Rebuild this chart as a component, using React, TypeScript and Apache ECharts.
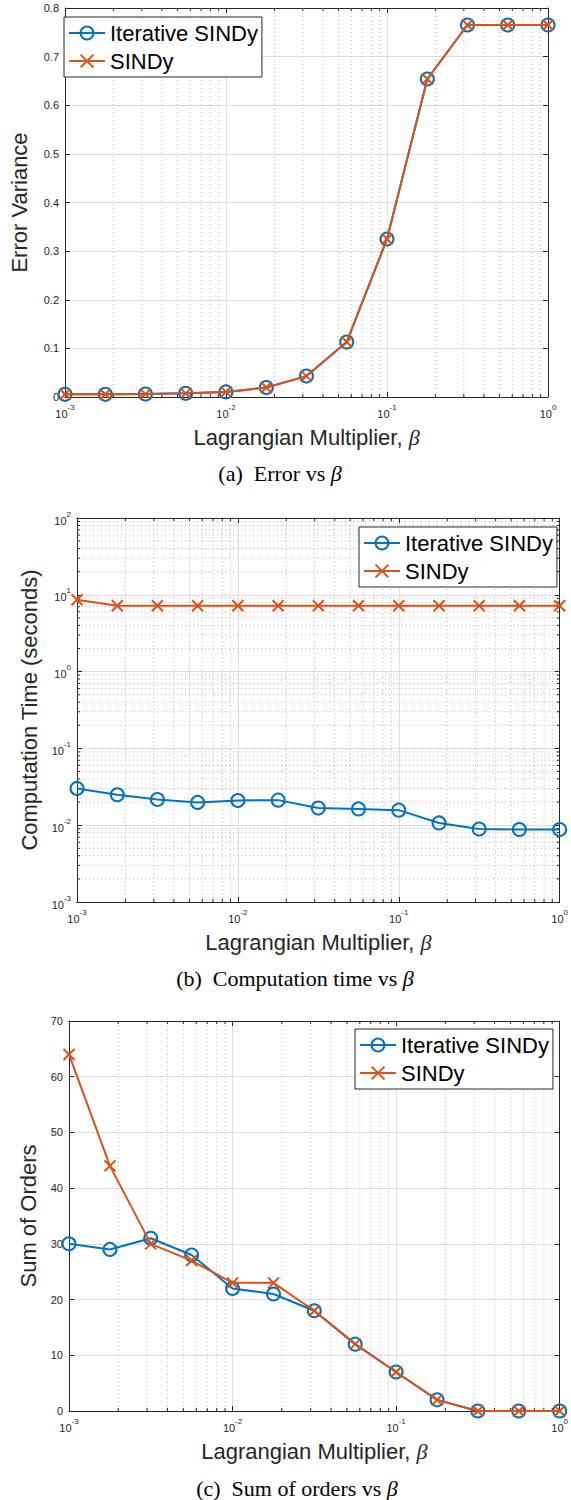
import React, { useEffect, useRef } from "react";
import * as echarts from "echarts";

// ---------------- data ----------------
const beta = [0.001, 0.00178, 0.00316, 0.00562, 0.01, 0.0178, 0.0316, 0.0562, 0.1, 0.178, 0.316, 0.562, 1];

const errorIterative = [0.0055, 0.0055, 0.006, 0.0075, 0.0105, 0.0195, 0.043, 0.113, 0.325, 0.654, 0.765, 0.765, 0.765];
const errorSindy = [0.0055, 0.0055, 0.006, 0.0075, 0.0105, 0.0195, 0.043, 0.113, 0.325, 0.654, 0.765, 0.765, 0.765];

const timeIterative = [0.0301, 0.0249, 0.0216, 0.0198, 0.021, 0.0212, 0.0167, 0.0163, 0.0157, 0.0107, 0.0089, 0.0088, 0.0088];
const timeSindy = [8.6, 7.2, 7.2, 7.2, 7.2, 7.2, 7.2, 7.2, 7.2, 7.2, 7.2, 7.2, 7.2];

const ordersIterative = [30, 29, 31, 28, 22, 21, 18, 12, 7, 2, 0, 0, 0];
const ordersSindy = [64, 44, 30, 27, 23, 23, 18, 12, 7, 2, 0, 0, 0];

const seriesNames = ["Iterative SINDy", "SINDy"];
const xAxisTitle = "Lagrangian Multiplier, {i|β}";
const yAxisTitles = ["Error Variance", "Computation Time (seconds)", "Sum of Orders"];
const captions = ["(a)  Error vs {i|β}", "(b)  Computation time vs {i|β}", "(c)  Sum of orders vs {i|β}"];

const xDecades = [0.001, 0.01, 0.1, 1];
const timeDecades = [0.001, 0.01, 0.1, 1, 10, 100];
const minorMultipliers = [2, 3, 4, 5, 6, 7, 8, 9];

// ---------------- style ----------------
const BLUE = "#0072BD";
const ORANGE = "#D95319";
const AXIS = "#262626";
const SANS = "'Liberation Sans', Arial, Helvetica, sans-serif";
const SERIF = "'Liberation Serif', 'Times New Roman', serif";
const XPATH = "path://M0,0L10,10M10,0L0,10";

const minorsOf = (decades: number[]) =>
  decades.slice(0, -1).flatMap((d) => minorMultipliers.map((m) => m * d));

const pow10 = (v: number) => {
  const e = Math.round(Math.log10(v));
  return `{b|10}{s|${e}}`;
};
const powRich = {
  b: { fontSize: 11, lineHeight: 16, verticalAlign: "bottom", fontFamily: SANS, color: AXIS },
  s: { fontSize: 8, lineHeight: 9, verticalAlign: "top", fontFamily: SANS, color: AXIS },
};

const grids = [
  { left: 55, top: 8, width: 493, height: 389 },
  { left: 77, top: 518, width: 486, height: 384 },
  { left: 69, top: 1021, width: 494, height: 390 },
];
const yNameGaps = [35, 34, 27];
const legendPos = [
  { left: 64, top: 17 },
  { left: 359, top: 527 },
  { left: 355, top: 1029 },
];
const captionPos = [
  { x: 280, y: 473 },
  { x: 295, y: 978 },
  { x: 297, y: 1488 },
];

function lineSeries(name: string, values: number[], g: number, circle: boolean) {
  const color = circle ? BLUE : ORANGE;
  return {
    type: "line",
    name,
    xAxisIndex: 2 * g,
    yAxisIndex: 2 * g,
    data: beta.map((x, i) => [x, values[i]]),
    symbol: circle ? "circle" : XPATH,
    symbolSize: circle ? 13 : 11,
    showSymbol: true,
    clip: false,
    color,
    lineStyle: { color, width: 2 },
    itemStyle: { color: circle ? "rgba(0,0,0,0)" : color, borderColor: color, borderWidth: 2 },
    z: circle ? 3 : 4,
    silent: true,
    emphasis: { disabled: true },
  };
}

function minorSeries(
  g: number,
  xMin: number,
  xMax: number,
  yMin: number,
  yMax: number,
  xMinors: number[],
  yMinors: number[]
) {
  const data = [
    ...xMinors.map((v) => [v, yMin, 0]),
    ...yMinors.map((v) => [xMin, v, 1]),
  ];
  const dotted = { stroke: "#bcbcbc", lineWidth: 1, lineDash: [1, 3] };
  const tick = { stroke: AXIS, lineWidth: 1 };
  return {
    type: "custom",
    xAxisIndex: 2 * g,
    yAxisIndex: 2 * g,
    silent: true,
    clip: false,
    z: 1,
    data,
    encode: { x: 0, y: 1 },
    renderItem: (_p: any, api: any) => {
      const kind = api.value(2);
      if (kind === 0) {
        const v = api.value(0);
        const b = api.coord([v, yMin]);
        const t = api.coord([v, yMax]);
        return {
          type: "group",
          children: [
            { type: "line", shape: { x1: b[0], y1: b[1], x2: t[0], y2: t[1] }, style: dotted },
            { type: "line", shape: { x1: b[0], y1: b[1], x2: b[0], y2: b[1] - 3 }, style: tick },
            { type: "line", shape: { x1: t[0], y1: t[1], x2: t[0], y2: t[1] + 3 }, style: tick },
          ],
        };
      }
      const v = api.value(1);
      const l = api.coord([xMin, v]);
      const r = api.coord([xMax, v]);
      return {
        type: "group",
        children: [
          { type: "line", shape: { x1: l[0], y1: l[1], x2: r[0], y2: r[1] }, style: dotted },
          { type: "line", shape: { x1: l[0], y1: l[1], x2: l[0] + 3, y2: l[1] }, style: tick },
          { type: "line", shape: { x1: r[0], y1: r[1], x2: r[0] - 3, y2: r[1] }, style: tick },
        ],
      };
    },
  };
}

const axisLine = { show: true, onZero: false, lineStyle: { color: AXIS, width: 1 } };
const axisTick = { show: true, inside: true, length: 5, lineStyle: { color: AXIS, width: 1 } };
const splitLine = { show: true, lineStyle: { color: "#dedede", width: 1 } };

function xAxesFor(g: number) {
  const base = { type: "log", logBase: 10, gridIndex: g, min: 0.001, max: 1, splitNumber: 3 };
  return [
    {
      ...base,
      position: "bottom",
      axisLine,
      axisTick,
      splitLine,
      axisLabel: {
        margin: 6,
        formatter: pow10,
        rich: powRich,
        showMinLabel: true,
        showMaxLabel: true,
        hideOverlap: false,
      },
      name: xAxisTitle,
      nameLocation: "middle",
      nameGap: 29,
      nameTextStyle: {
        fontFamily: SANS,
        fontSize: 22,
        color: AXIS,
        rich: { i: { fontFamily: SERIF, fontStyle: "italic", fontSize: 22, color: AXIS } },
      },
    },
    {
      ...base,
      position: "top",
      axisLine,
      axisTick,
      splitLine: { show: false },
      axisLabel: { show: false },
    },
  ];
}

function yAxesFor(g: number) {
  let base: any;
  let label: any;
  if (g === 0) {
    base = { type: "value", min: 0, max: 0.8, interval: 0.1 };
    label = { formatter: (v: number) => (v === 0 ? "0" : v.toFixed(1)) };
  } else if (g === 1) {
    base = { type: "log", logBase: 10, min: 0.001, max: 100, splitNumber: 5 };
    label = { formatter: pow10, rich: powRich };
  } else {
    base = { type: "value", min: 0, max: 70, interval: 10 };
    label = { formatter: (v: number) => String(Math.round(v)) };
  }
  return [
    {
      ...base,
      gridIndex: g,
      position: "left",
      axisLine,
      axisTick,
      splitLine,
      axisLabel: {
        ...label,
        margin: 6,
        fontFamily: SANS,
        fontSize: 11,
        color: AXIS,
        showMinLabel: true,
        showMaxLabel: true,
        hideOverlap: false,
      },
      name: yAxisTitles[g],
      nameLocation: "middle",
      nameRotate: 90,
      nameGap: yNameGaps[g],
      nameTextStyle: { fontFamily: SANS, fontSize: 22, color: AXIS },
    },
    {
      ...base,
      gridIndex: g,
      position: "right",
      axisLine,
      axisTick,
      splitLine: { show: false },
      axisLabel: { show: false },
    },
  ];
}

export default function App() {
  const ref = useRef<HTMLDivElement>(null);
  useEffect(() => {
    if (!ref.current) return;
    const chart = echarts.init(ref.current, undefined, { renderer: "svg" });
    const xMinors = minorsOf(xDecades);
    const timeMinors = minorsOf(timeDecades);
    const option: any = {
      animation: false,
      backgroundColor: "#ffffff",
      grid: grids.map((g) => ({ ...g, containLabel: false })),
      xAxis: [0, 1, 2].flatMap((g) => xAxesFor(g)),
      yAxis: [0, 1, 2].flatMap((g) => yAxesFor(g)),
      legend: legendPos.map((p) => ({
        data: seriesNames,
        orient: "vertical",
        left: p.left,
        top: p.top,
        itemWidth: 36,
        itemHeight: 16,
        itemGap: 2,
        padding: [3, 4, 3, 4],
        backgroundColor: "#ffffff",
        borderColor: AXIS,
        borderWidth: 1,
        borderRadius: 0,
        selectedMode: false,
        textStyle: { fontFamily: SANS, fontSize: 22, color: "#000", lineHeight: 26 },
        z: 10,
      })),
      graphic: captions.map((c, g) => ({
        type: "text",
        x: captionPos[g].x,
        y: captionPos[g].y,
        style: {
          text: c,
          fontFamily: SERIF,
          fontSize: 22,
          fill: "#000",
          align: "center",
          verticalAlign: "middle",
          rich: { i: { fontFamily: SERIF, fontStyle: "italic", fontSize: 22, fill: "#000" } },
        },
      })),
      series: [
        minorSeries(0, 0.001, 1, 0, 0.8, xMinors, []),
        lineSeries(seriesNames[0], errorIterative, 0, true),
        lineSeries(seriesNames[1], errorSindy, 0, false),
        minorSeries(1, 0.001, 1, 0.001, 100, xMinors, timeMinors),
        lineSeries(seriesNames[0], timeIterative, 1, true),
        lineSeries(seriesNames[1], timeSindy, 1, false),
        minorSeries(2, 0.001, 1, 0, 70, xMinors, []),
        lineSeries(seriesNames[0], ordersIterative, 2, true),
        lineSeries(seriesNames[1], ordersSindy, 2, false),
      ],
    };
    chart.setOption(option);
    return () => chart.dispose();
  }, []);
  return (
    <div
      ref={ref}
      style={{ position: "absolute", left: 0, top: 0, width: 571, height: 1500, background: "#fff" }}
    />
  );
}
